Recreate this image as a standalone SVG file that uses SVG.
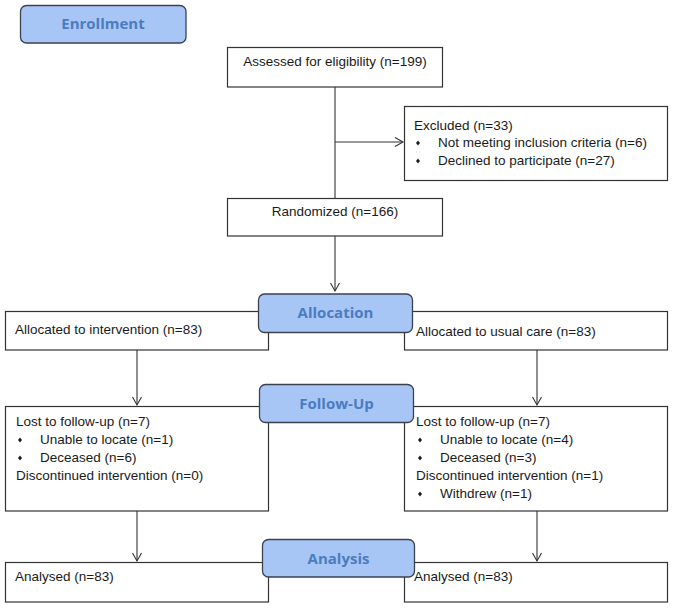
<svg xmlns="http://www.w3.org/2000/svg" width="675" height="608" viewBox="0 0 675 608">
  <style>
    .box { fill: #ffffff; stroke: #333333; stroke-width: 1.2; }
    .stage { fill: #a8c6f5; stroke: #3a4250; stroke-width: 1.3; }
    .stext { font-family: "Open Sans", "Liberation Sans", sans-serif; font-weight: bold; font-size: 15px; fill: #4a7cbf; text-anchor: middle; }
    .t { font-family: "Liberation Sans", Arial, sans-serif; font-size: 13.5px; fill: #1a1a1a; }
    .mid { text-anchor: middle; }
    .conn { stroke: #333333; stroke-width: 1.1; fill: none; }
  </style>
  <defs>
    <marker id="arrow" markerUnits="userSpaceOnUse" markerWidth="12" markerHeight="12" refX="9" refY="5" orient="auto">
      <path d="M1,0.5 L9,5 L1,9.5" fill="none" stroke="#333333" stroke-width="1.1"/>
    </marker>
    <path id="bullet" d="M0,-2.6 L2,0 L0,2.6 L-2,0 Z" fill="#1a1a1a"/>
  </defs>

  <rect width="675" height="608" fill="#ffffff"/>

  <g id="connectors">
    <line class="conn" x1="335" y1="87" x2="335" y2="198"/>
    <line class="conn" x1="335" y1="142" x2="403" y2="142" marker-end="url(#arrow)"/>
    <line class="conn" x1="335" y1="236" x2="335" y2="291" marker-end="url(#arrow)"/>
    <line class="conn" x1="137" y1="350" x2="137" y2="405" marker-end="url(#arrow)"/>
    <line class="conn" x1="537" y1="350" x2="537" y2="405" marker-end="url(#arrow)"/>
    <line class="conn" x1="137" y1="511" x2="137" y2="561" marker-end="url(#arrow)"/>
    <line class="conn" x1="537" y1="511" x2="537" y2="561" marker-end="url(#arrow)"/>
  </g>

  <g id="assessed">
    <rect class="box" x="227.5" y="47.5" width="215" height="39.5"/>
    <text class="t mid" x="335" y="66">Assessed for eligibility (n=199)</text>
  </g>

  <g id="excluded">
    <rect class="box" x="404.5" y="106.5" width="263" height="74"/>
    <text class="t" x="414" y="130">Excluded (n=33)</text>
    <use href="#bullet" x="418" y="143"/>
    <text class="t" x="438" y="147">Not meeting inclusion criteria (n=6)</text>
    <use href="#bullet" x="418" y="161"/>
    <text class="t" x="438" y="165">Declined to participate (n=27)</text>
  </g>

  <g id="randomized">
    <rect class="box" x="227.5" y="198.5" width="215" height="37.5"/>
    <text class="t mid" x="335" y="216">Randomized (n=166)</text>
  </g>

  <g id="alloc-intervention">
    <rect class="box" x="5.5" y="311.5" width="263" height="38.5"/>
    <text class="t" x="15" y="334">Allocated to intervention (n=83)</text>
  </g>

  <g id="alloc-usual">
    <rect class="box" x="404.5" y="311.5" width="263" height="38.5"/>
    <text class="t" x="416" y="336">Allocated to usual care (n=83)</text>
  </g>

  <g id="followup-intervention">
    <rect class="box" x="5.5" y="406.5" width="263" height="104.5"/>
    <text class="t" x="16" y="426">Lost to follow-up (n=7)</text>
    <use href="#bullet" x="20" y="440"/>
    <text class="t" x="40" y="444">Unable to locate (n=1)</text>
    <use href="#bullet" x="20" y="458"/>
    <text class="t" x="40" y="462">Deceased (n=6)</text>
    <text class="t" x="16" y="480">Discontinued intervention (n=0)</text>
  </g>

  <g id="followup-usual">
    <rect class="box" x="404.5" y="406.5" width="263" height="104.5"/>
    <text class="t" x="416" y="426">Lost to follow-up (n=7)</text>
    <use href="#bullet" x="420" y="440"/>
    <text class="t" x="440" y="444">Unable to locate (n=4)</text>
    <use href="#bullet" x="420" y="458"/>
    <text class="t" x="440" y="462">Deceased (n=3)</text>
    <text class="t" x="416" y="480">Discontinued intervention (n=1)</text>
    <use href="#bullet" x="420" y="494"/>
    <text class="t" x="440" y="498">Withdrew (n=1)</text>
  </g>

  <g id="analysed-intervention">
    <rect class="box" x="5.5" y="562.5" width="263" height="39.5"/>
    <text class="t" x="15" y="581">Analysed (n=83)</text>
  </g>

  <g id="analysed-usual">
    <rect class="box" x="404.5" y="562.5" width="263" height="39.5"/>
    <text class="t" x="414" y="581">Analysed (n=83)</text>
  </g>

  <g id="enrollment">
    <rect class="stage" x="20.5" y="5.5" width="165.5" height="37.5" rx="6" ry="6"/>
    <text class="stext" x="103" y="29">Enrollment</text>
  </g>

  <g id="allocation">
    <rect class="stage" x="258.5" y="294" width="154" height="38.5" rx="6" ry="6"/>
    <text class="stext" x="335.5" y="318">Allocation</text>
  </g>

  <g id="follow-up">
    <rect class="stage" x="259.5" y="384.5" width="154" height="38" rx="6" ry="6"/>
    <text class="stext" x="336.5" y="408.5">Follow-Up</text>
  </g>

  <g id="analysis">
    <rect class="stage" x="262.5" y="539.5" width="152" height="37.5" rx="6" ry="6"/>
    <text class="stext" x="338.5" y="563.5">Analysis</text>
  </g>
</svg>
